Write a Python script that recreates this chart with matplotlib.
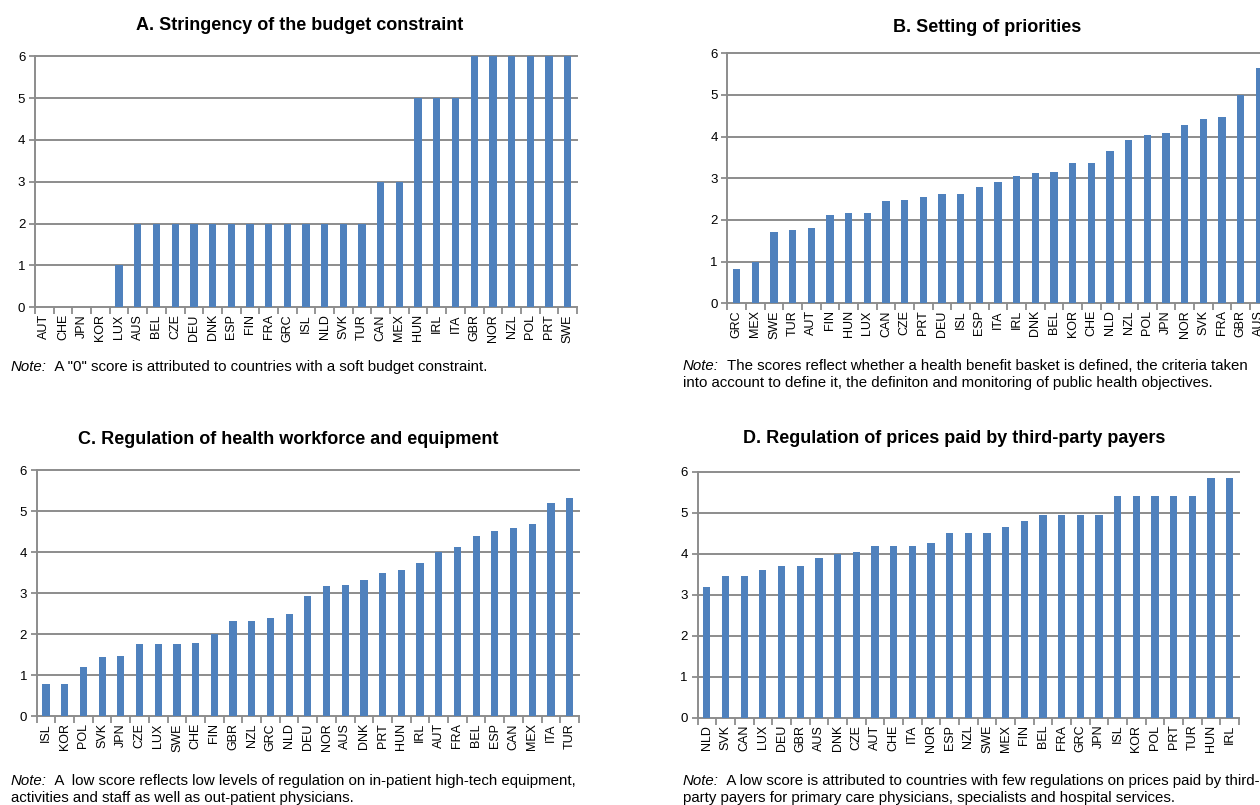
import matplotlib
matplotlib.use("Agg")
import matplotlib.pyplot as plt
import numpy as np

plt.rcParams['font.family'] = ['Liberation Sans', 'DejaVu Sans']

# ---------------- data ----------------
a_countries = ["AUT", "CHE", "JPN", "KOR", "LUX", "AUS", "BEL", "CZE", "DEU", "DNK",
               "ESP", "FIN", "FRA", "GRC", "ISL", "NLD", "SVK", "TUR", "CAN", "MEX",
               "HUN", "IRL", "ITA", "GBR", "NOR", "NZL", "POL", "PRT", "SWE"]
a_values = [0, 0, 0, 0, 1, 2, 2, 2, 2, 2, 2, 2, 2, 2, 2, 2, 2, 2, 3, 3,
            5, 5, 5, 6, 6, 6, 6, 6, 6]

b_countries = ["GRC", "MEX", "SWE", "TUR", "AUT", "FIN", "HUN", "LUX", "CAN", "CZE",
               "PRT", "DEU", "ISL", "ESP", "ITA", "IRL", "DNK", "BEL", "KOR", "CHE",
               "NLD", "NZL", "POL", "JPN", "NOR", "SVK", "FRA", "GBR", "AUS"]
b_values = [0.83, 1.0, 1.70, 1.77, 1.80, 2.12, 2.16, 2.17, 2.45, 2.47,
            2.54, 2.62, 2.62, 2.80, 2.90, 3.05, 3.13, 3.16, 3.37, 3.37,
            3.66, 3.93, 4.04, 4.09, 4.27, 4.43, 4.46, 5.00, 5.65]

c_countries = ["ISL", "KOR", "POL", "SVK", "JPN", "CZE", "LUX", "SWE", "CHE", "FIN",
               "GBR", "NZL", "GRC", "NLD", "DEU", "NOR", "AUS", "DNK", "PRT", "HUN",
               "IRL", "AUT", "FRA", "BEL", "ESP", "CAN", "MEX", "ITA", "TUR"]
c_values = [0.80, 0.80, 1.20, 1.45, 1.47, 1.77, 1.77, 1.77, 1.80, 2.00,
            2.33, 2.33, 2.40, 2.50, 2.93, 3.17, 3.20, 3.33, 3.50, 3.58,
            3.73, 4.00, 4.13, 4.40, 4.53, 4.60, 4.70, 5.20, 5.33]

d_countries = ["NLD", "SVK", "CAN", "LUX", "DEU", "GBR", "AUS", "DNK", "CZE", "AUT",
               "CHE", "ITA", "NOR", "ESP", "NZL", "SWE", "MEX", "FIN", "BEL", "FRA",
               "GRC", "JPN", "ISL", "KOR", "POL", "PRT", "TUR", "HUN", "IRL"]
d_values = [3.20, 3.45, 3.45, 3.60, 3.70, 3.70, 3.90, 4.00, 4.05, 4.20,
            4.20, 4.20, 4.25, 4.50, 4.50, 4.50, 4.65, 4.80, 4.95, 4.95,
            4.95, 4.95, 5.40, 5.40, 5.40, 5.40, 5.40, 5.85, 5.85]

titles = ["A. Stringency of the budget constraint",
          "B. Setting of priorities",
          "C. Regulation of health workforce and equipment",
          "D. Regulation of prices paid by third-party payers"]

y_ticks = [0, 1, 2, 3, 4, 5, 6]

# ---------------- style ----------------
W, H = 1260, 805
BAR = "#4F81BD"
GRID = "#8C8C8C"
TICK_FS = 9
NOTE_FS = 10.8
TITLE_FS = 13

fig = plt.figure(figsize=(W / 100, H / 100), dpi=100)
fig.patch.set_facecolor("white")


def rect(l, r, t, b):
    return [l / W, 1 - b / H, (r - l) / W, (b - t) / H]


def panel(box, cats, vals):
    ax = fig.add_axes(rect(*box))
    n = len(cats)
    x = np.arange(n)
    ax.bar(x, vals, width=0.39, color=BAR, edgecolor="none", zorder=3)
    ax.set_xlim(-0.5, n - 0.5)
    ax.set_ylim(0, 6)
    ax.set_yticks(y_ticks)
    ax.set_yticklabels([str(v) for v in y_ticks], fontsize=TICK_FS + 0.5)
    ax.set_xticks(x)
    ax.set_xticklabels(cats, rotation=90, fontsize=TICK_FS)
    ax.set_xticks(np.arange(n + 1) - 0.5, minor=True)
    ax.tick_params(axis="x", which="major", length=0, pad=5)
    ax.tick_params(axis="x", which="minor", length=5, width=1.3, color=GRID,
                   direction="out")
    ax.tick_params(axis="y", length=4, width=1.3, color=GRID, direction="out",
                   pad=3)
    for v in y_ticks[1:]:
        ax.axhline(v, color=GRID, lw=1.4, zorder=2, clip_on=False)
    for s in ["top", "right"]:
        ax.spines[s].set_visible(False)
    for s in ["left", "bottom"]:
        ax.spines[s].set_color(GRID)
        ax.spines[s].set_linewidth(1.4)
    ax.set_facecolor("white")
    return ax


panel((35, 577, 56.3, 307.3), a_countries, a_values)
panel((727.3, 1268.8, 53.3, 303.3), b_countries, b_values)
panel((36.7, 579, 470.3, 716.3), c_countries, c_values)
panel((697.5, 1239, 471.7, 717.7), d_countries, d_values)

# titles
title_pos = [(300, 26), (987, 27), (288, 439), (954, 438)]
for t, (px, py) in zip(titles, title_pos):
    fig.text(px / W, 1 - py / H, t, ha="center", va="center",
             fontsize=TITLE_FS, fontweight="bold")


def note(px, py, rest, second=None, dy=17):
    t1 = fig.text(px / W, 1 - py / H, "Note:", style="italic",
                  fontsize=NOTE_FS, ha="left", va="center")
    plt.annotate(rest, xy=(1, 0.5), xycoords=t1, va="center", ha="left",
                 fontsize=NOTE_FS, annotation_clip=False)
    if second:
        fig.text(px / W, 1 - (py + dy) / H, second, fontsize=NOTE_FS,
                 ha="left", va="center")


note(10.7, 366.5, '  A "0" score is attributed to countries with a soft budget constraint.')
note(682.7, 366, "  The scores reflect whether a health benefit basket is defined, the criteria taken",
     "into account to define it, the definiton and monitoring of public health objectives.")
note(10.7, 781, "  A  low score reflects low levels of regulation on in-patient high-tech equipment,",
     "activities and staff as well as out-patient physicians.")
note(682.7, 781, "  A low score is attributed to countries with few regulations on prices paid by third-",
     "party payers for primary care physicians, specialists and hospital services.")

fig.savefig("out.png", dpi=100, facecolor="white")
